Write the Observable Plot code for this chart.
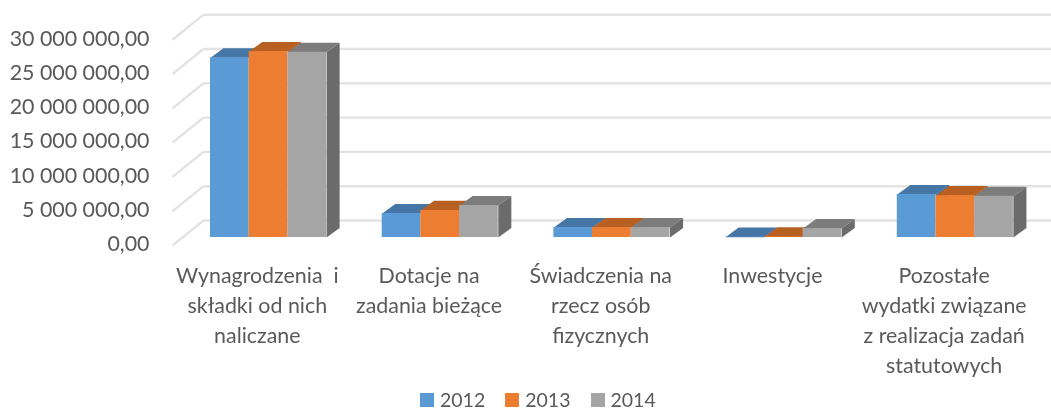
<!DOCTYPE html>
<html lang="pl"><head><meta charset="utf-8">
<script src="https://cdn.jsdelivr.net/npm/d3@7"></script>
<script src="https://cdn.jsdelivr.net/npm/@observablehq/plot@0.6"></script>
<style>
html,body{margin:0;padding:0;background:#fff;overflow:hidden;width:1051px;height:412px}
#chart svg{display:block;overflow:visible;background:#fff}
#chart svg text{white-space:pre}
#legend{display:flex;justify-content:flex-start;align-items:center;height:16px;line-height:16px;padding-left:420px;font:19.5px/16px Lato,sans-serif;color:#595959;filter:blur(.35px)}
#legend span.s{width:14px;height:14px;display:inline-block;margin-right:6px}
#legend span.t{margin-right:20px}
</style></head><body>
<div id="chart"></div><div id="legend"></div>
<script>
const categories = ["Wynagrodzenia  i\nskładki od nich\nnaliczane","Dotacje na\nzadania bieżące","Świadczenia na\nrzecz osób\nfizycznych","Inwestycje","Pozostałe\nwydatki związane\nz realizacja zadań\nstatutowych"];
const years = ["2012","2013","2014"];
const values2012 = [26200000,3500000,1450000,50000,6270000];
const values2013 = [27100000,3940000,1450000,80000,6100000];
const values2014 = [27000000,4660000,1450000,1300000,6000000];
const ticks = [0,5e6,10e6,15e6,20e6,25e6,30e6];
const frontColors = ["#5B9BD5","#ED7D31","#A5A5A5"];
const topColors = ["#4576A5","#B85F22","#7C7C7C"];
const sideColors = ["#3A6690","#A05020","#6B6B6B"];

const series = [values2012,values2013,values2014];
// oblique projection, expressed in data units
const barDX = 0.076, barDV = 1.4e6, barW = 0.2254, barStart = 0.163;
const wallFront = {dx:-0.058, dv:-1.17e6}, wallBack = {dx:0.122, dv:2.48e6};
const wallEnd = 5.07;
const fmt = v => d3.format(",.2f")(v).replace(/,/g," ").replace(".",",");

const marks = [];
marks.push(Plot.link(ticks,{x1:wallFront.dx,y1:v=>v+wallFront.dv,x2:wallBack.dx,y2:v=>v+wallBack.dv,stroke:"#E3E3E3",strokeWidth:2.4}));
marks.push(Plot.link(ticks,{x1:wallBack.dx,y1:v=>v+wallBack.dv,x2:wallEnd,y2:v=>v+wallBack.dv,stroke:"#E3E3E3",strokeWidth:2.4}));
const poly = (pts,fill)=>Plot.line(pts,{x:"x",y:"y",fill,stroke:null});
categories.forEach((c,i)=>{
  series.forEach((vals,s)=>{
    const x1=i+barStart+s*barW, x2=x1+barW, v=vals[i];
    const P=(x,y)=>({x,y});
    marks.push(poly([P(x1,v),P(x2,v),P(x2+barDX,v+barDV),P(x1+barDX,v+barDV),P(x1,v)],topColors[s]));
    marks.push(poly([P(x2,0),P(x2,v),P(x2+barDX,v+barDV),P(x2+barDX,barDV),P(x2,0)],sideColors[s]));
    marks.push(Plot.rect([v],{x1:()=>x1,x2:()=>x2,y1:()=>0,y2:d=>d,fill:frontColors[s]}));
  });
});
marks.push(Plot.axisY({ticks,tickSize:0,tickPadding:33,dy:7,tickFormat:fmt,label:null,fontSize:21.4,fill:"#595959"}));
marks.push(Plot.text(categories,{x:(d,i)=>i+0.5,y:()=>0,dx:-11,dy:24,lineAnchor:"top",lineHeight:1.4,textAnchor:"middle",fontSize:21.4,fill:"#595959"}));

const plot = Plot.plot({
  width:1051,height:392,marginLeft:182,marginRight:10.5,marginTop:0,marginBottom:0,
  style:{fontFamily:"Lato, sans-serif",background:"#fff",filter:"blur(.35px)"},
  x:{domain:[0,5],range:[182,1040.5],axis:null},
  y:{domain:[0,30e6],range:[237,31.2]},
  marks
});
document.getElementById("chart").append(plot);
const lg=document.getElementById("legend");
years.forEach((y,i)=>{
  const a=document.createElement("span");a.className="s";a.style.background=frontColors[i];
  const b=document.createElement("span");b.className="t";b.textContent=y;
  lg.append(a,b);
});
</script></body></html>
